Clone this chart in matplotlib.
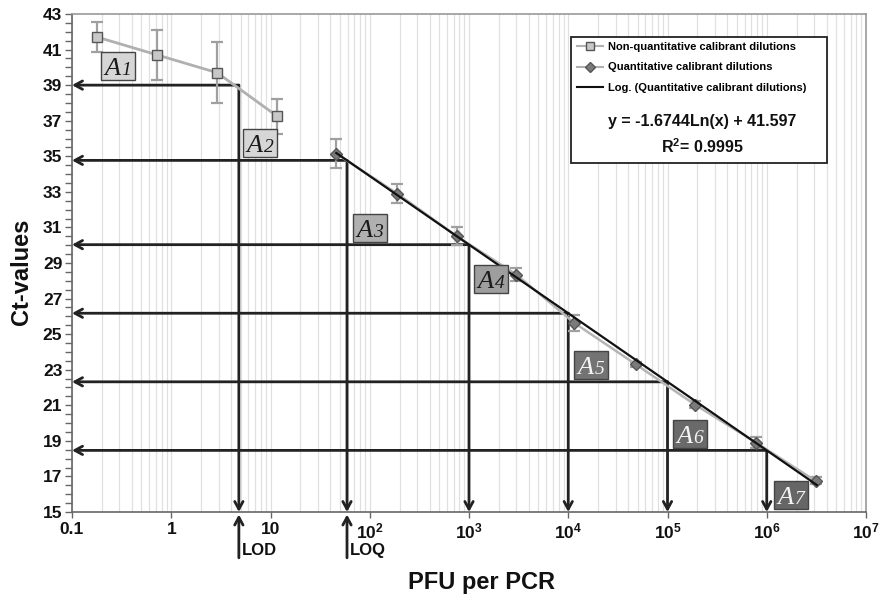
import numpy as np
import matplotlib
matplotlib.use("Agg")
import matplotlib.pyplot as plt
from matplotlib.lines import Line2D
from matplotlib.patches import Rectangle
from matplotlib.transforms import offset_copy

plt.rcParams['font.family'] = ['Liberation Sans', 'DejaVu Sans']
plt.rcParams['mathtext.fontset'] = 'custom'
plt.rcParams['mathtext.rm'] = 'Liberation Sans:bold'
plt.rcParams['mathtext.it'] = 'Liberation Sans:bold:italic'
plt.rcParams['mathtext.bf'] = 'Liberation Sans:bold'
plt.rcParams['mathtext.sf'] = 'Liberation Sans'

# ---------------- data ----------------
nonq_x = [0.18, 0.72, 2.9, 11.7]
nonq_y = [41.7, 40.7, 39.7, 37.25]
nonq_err = [0.85, 1.4, 1.7, 0.97]

quant_x = [46, 190, 755, 3000, 11500, 48000, 190000, 780000, 3.1e6]
quant_y = [35.15, 32.9, 30.5, 28.35, 25.63, 23.3, 21.03, 18.9, 16.75]
quant_err = [0.8, 0.55, 0.5, 0.37, 0.44, 0.15, 0.2, 0.3, 0.2]

fit_slope = -1.6744
fit_intercept = 41.597
fit_range = [46, 3.2e6]

# limit / reading lines: (x at curve, Ct value)
lod_x, lod_y = 4.8, 39.0
loq_x = 59.0
decade_marks = [1e3, 1e4, 1e5, 1e6]

area_labels = ['1', '2', '3', '4', '5', '6', '7']

x_ticks = [0.1, 1, 10, 1e2, 1e3, 1e4, 1e5, 1e6, 1e7]
x_tick_labels = ['0.1', '1', '10', r'$\mathbf{10^{2}}$', r'$\mathbf{10^{3}}$',
                 r'$\mathbf{10^{4}}$', r'$\mathbf{10^{5}}$', r'$\mathbf{10^{6}}$',
                 r'$\mathbf{10^{7}}$']
y_ticks = list(range(15, 44, 2))

legend_labels = ['Non-quantitative calibrant dilutions',
                 'Quantitative calibrant dilutions',
                 'Log. (Quantitative calibrant dilutions)']
equation_text = 'y = -1.6744Ln(x) + 41.597'
r2_text = r'$\mathbf{R^{2}}$' + '= 0.9995'

def fit(x):
    return fit_slope * np.log(x) + fit_intercept

# ---------------- figure ----------------
W, H = 882, 598
fig = plt.figure(figsize=(W / 100, H / 100), dpi=100)
ax_l, ax_r, ax_t, ax_b = 72, 866, 14, 512
AW, AH = ax_r - ax_l, ax_b - ax_t
ax = fig.add_axes([ax_l / W, 1 - ax_b / H, AW / W, AH / H])

ax.set_xscale('log')
ax.set_xlim(0.1, 1e7)
ax.set_ylim(15, 43)

# grid
ax.xaxis.set_minor_locator(matplotlib.ticker.LogLocator(base=10, subs=np.arange(2, 10)))
ax.grid(True, which='both', axis='x', color='#e0e0e0', lw=0.9, zorder=0)
ax.set_axisbelow(True)

ax.set_xticks(x_ticks)
ax.set_xticklabels(x_tick_labels, fontsize=12.5, fontweight='bold', color='#111')
ax.set_yticks(y_ticks)
ax.set_yticklabels([str(v) for v in y_ticks], fontsize=12.5, fontweight='bold', color='#111')
ax.yaxis.set_minor_locator(matplotlib.ticker.MultipleLocator(0.5))
ax.xaxis.set_minor_formatter(matplotlib.ticker.NullFormatter())
ax.tick_params(axis='y', which='both', direction='out', length=5, width=1, color='#666', pad=2)
ax.tick_params(axis='x', which='major', direction='out', length=4, width=1, color='#666', pad=3)
ax.tick_params(axis='x', which='minor', length=0)

for s in ['left', 'bottom']:
    ax.spines[s].set_color('#666')
    ax.spines[s].set_linewidth(1.2)
for s in ['top', 'right']:
    ax.spines[s].set_color('#999')
    ax.spines[s].set_linewidth(1.2)

# reading lines with arrows
arrow_kw = dict(arrowstyle='->,head_length=0.55,head_width=0.3', lw=2.0,
                color='#222', shrinkA=0, shrinkB=0)
reading_pts = [(lod_x, lod_y), (loq_x, fit(loq_x))] + [(d, fit(d)) for d in decade_marks]
for (xv, yv) in reading_pts:
    ax.annotate('', xy=(0.1, yv), xytext=(xv, yv), arrowprops=arrow_kw, zorder=3)
    ax.annotate('', xy=(xv, 15), xytext=(xv, yv), arrowprops=arrow_kw, zorder=3)

# LOD / LOQ arrows below axis
trans = ax.get_xaxis_transform()
for xv, name in [(lod_x, 'LOD'), (loq_x, 'LOQ')]:
    ax.annotate('', xy=(xv, -0.005), xytext=(xv, -0.092), xycoords=trans, textcoords=trans,
                arrowprops=arrow_kw, annotation_clip=False)
    ax.annotate(name, xy=(xv, -0.078), xycoords=trans, xytext=(2, 0),
                textcoords='offset points', ha='left', va='center',
                fontsize=12, fontweight='bold', color='#111', annotation_clip=False)

# series
ax.errorbar(nonq_x, nonq_y, yerr=nonq_err, fmt='none', ecolor='#a0a0a0', elinewidth=1.6,
            capsize=4, capthick=1.6, zorder=4)
ax.plot(nonq_x, nonq_y, color='#b0b0b0', lw=2.0, marker='s', ms=7.5, mfc='#c8c8c8',
        mec='#555', mew=1.0, zorder=5)

ax.errorbar(quant_x, quant_y, yerr=quant_err, fmt='none', ecolor='#a0a0a0', elinewidth=1.6,
            capsize=4, capthick=1.6, zorder=4)
ax.plot(quant_x, quant_y, color='#b5b5b5', lw=1.8, zorder=4)
ax.plot(quant_x, quant_y, ls='none', marker='D', ms=6.0, mfc='#7a7a7a', mec='#555',
        mew=1.0, zorder=5)

fx = np.logspace(np.log10(fit_range[0]), np.log10(fit_range[1]), 100)
ax.plot(fx, fit(fx), color='#111', lw=1.6, zorder=6)

# area labels (boxes ~34 x 28 px)
label_pos = [(0.058, 0.895), (0.237, 0.741), (0.375, 0.570), (0.528, 0.4685),
             (0.654, 0.295), (0.778, 0.1566), (0.906, 0.034)]
label_fill = ['#d6d6d6', '#d6d6d6', '#b0b0b0', '#9e9e9e', '#737373', '#6a6a6a', '#666666']
label_txt = ['#1a1a1a', '#1a1a1a', '#1a1a1a', '#1a1a1a', '#f4f4f4', '#f4f4f4', '#f4f4f4']
bw, bh = 34 / AW, 28 / AH
serif = ['Liberation Serif', 'DejaVu Serif']
for lab, (px, py), fc, tc in zip(area_labels, label_pos, label_fill, label_txt):
    ax.add_patch(Rectangle((px - bw / 2, py - bh / 2), bw, bh, transform=ax.transAxes,
                           fc=fc, ec='#444', lw=1.0, zorder=8))
    tA = offset_copy(ax.transAxes, fig=fig, x=-5.5, y=-9, units='dots')
    ax.text(px, py, 'A', transform=tA, ha='center', va='baseline', family=serif,
            style='italic', fontsize=19, color=tc, zorder=9)
    tD = offset_copy(ax.transAxes, fig=fig, x=8.5, y=-9, units='dots')
    ax.text(px, py, lab, transform=tD, ha='center', va='baseline', family=serif,
            style='italic', fontsize=14, color=tc, zorder=9)

# legend box
lx0, lx1, ly0, ly1 = 0.6285, 0.951, 0.701, 0.954
ax.add_patch(Rectangle((lx0, ly0), lx1 - lx0, ly1 - ly0, transform=ax.transAxes,
                       fc='white', ec='#222', lw=1.3, zorder=9))
handles = [
    Line2D([], [], color='#b0b0b0', lw=1.5, marker='s', ms=6, mfc='#c8c8c8', mec='#555'),
    Line2D([], [], color='#b0b0b0', lw=1.5, marker='D', ms=5, mfc='#7a7a7a', mec='#555'),
    Line2D([], [], color='#111', lw=1.5),
]
leg = ax.legend(handles, legend_labels, loc='upper left', bbox_to_anchor=(0.636, 0.944),
                frameon=False, borderpad=0, borderaxespad=0, handlelength=2.3,
                handletextpad=0.5, labelspacing=0.95,
                prop={'family': 'Liberation Sans', 'weight': 'bold', 'size': 8})
leg.set_zorder(10)
ax.text(0.7935, 0.785, equation_text, transform=ax.transAxes, ha='center', va='center',
        fontsize=11.5, fontweight='bold', color='#111', zorder=11)
ax.text(0.7935, 0.733, r2_text, transform=ax.transAxes, ha='center', va='center',
        fontsize=11.5, fontweight='bold', color='#111', zorder=11)

# axis titles
fig.text(22 / W, 1 - 272 / H, 'Ct-values', rotation=90, ha='center', va='center',
         fontsize=17, fontweight='bold', color='#111')
fig.text(482 / W, 1 - 583 / H, 'PFU per PCR', ha='center', va='center',
         fontsize=17, fontweight='bold', color='#111')

fig.savefig('out.png', dpi=100)
